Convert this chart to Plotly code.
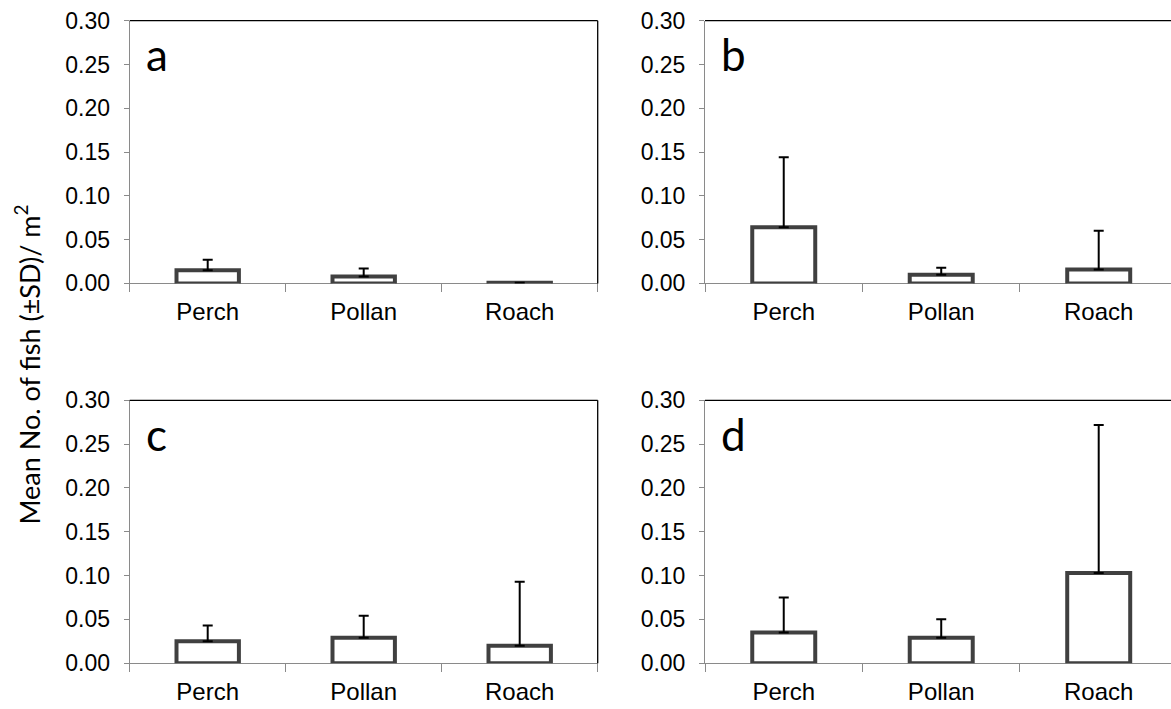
import plotly.graph_objects as go

categories = ["Perch", "Pollan", "Roach"]
panel_labels = ["a", "b", "c", "d"]

# Mean number of fish per m^2 and +SD (upper error only)
means_a = [0.015, 0.008, 0.0008]
sd_a = [0.012, 0.009, None]
means_b = [0.064, 0.010, 0.016]
sd_b = [0.080, 0.008, 0.044]
means_c = [0.025, 0.029, 0.020]
sd_c = [0.018, 0.025, 0.073]
means_d = [0.035, 0.029, 0.103]
sd_d = [0.040, 0.021, 0.169]

ytick_vals = [0.00, 0.05, 0.10, 0.15, 0.20, 0.25, 0.30]

W, H = 1171, 709

panels = [
    (means_a, sd_a, (129.7, 597.7), (8.0, 280.7), 2.5),
    (means_b, sd_b, (705.0, 1171.0), (8.0, 280.7), 2.459),
    (means_c, sd_c, (129.7, 597.7), (402.1, 674.9), 2.5),
    (means_d, sd_d, (705.0, 1171.0), (402.1, 674.9), 2.459),
]

fig = go.Figure()
layout = dict(
    width=W, height=H,
    margin=dict(l=0, r=0, t=0, b=0, pad=0),
    paper_bgcolor="white", plot_bgcolor="white",
    showlegend=False,
)
shapes = []
annotations = []
axis_gray = "#8a8a8a"

for i, (m, sd, (x0, x1), (ytop, ybot), xmax) in enumerate(panels):
    n = "" if i == 0 else str(i + 1)
    xa, ya = "x" + n, "y" + n
    fig.add_trace(go.Bar(
        x=categories, y=m, xaxis=xa, yaxis=ya,
        width=0.4,
        marker=dict(color="white", line=dict(color="#404040", width=4)),
        error_y=dict(type="data", symmetric=False, array=sd,
                     arrayminus=[0, 0, 0], color="black",
                     thickness=2, width=5),
        cliponaxis=False,
    ))
    layout["xaxis" + n] = dict(
        domain=[x0 / W, min(x1 / W, 1.0)], anchor=ya,
        type="category", categoryorder="array", categoryarray=categories,
        range=[-0.5, xmax], tickson="boundaries",
        ticks="outside", ticklen=8, tickcolor=axis_gray, tickwidth=1,
        showline=True, linecolor=axis_gray, linewidth=1,
        showgrid=False, zeroline=False, layer="below traces",
        tickfont=dict(family="Liberation Sans, Arial", size=24, color="black"),
        ticklabelstandoff=7, fixedrange=True,
    )
    layout["yaxis" + n] = dict(
        domain=[1 - ybot / H, 1 - ytop / H], anchor=xa,
        range=[0, 0.30], tickvals=ytick_vals, tickformat=".2f",
        ticks="outside", ticklen=5, tickcolor=axis_gray, tickwidth=1,
        showline=True, linecolor=axis_gray, linewidth=1,
        showgrid=False, zeroline=False, layer="below traces",
        tickfont=dict(family="Liberation Sans, Arial", size=23, color="black"),
        ticklabelstandoff=9, fixedrange=True,
    )
    # plot-area border (top, and right where visible)
    shapes.append(dict(type="line", xref=xa + " domain", yref=ya + " domain",
                       x0=0, x1=1, y0=1, y1=1,
                       line=dict(color="black", width=1.3)))
    if xmax >= 2.5:
        shapes.append(dict(type="line", xref=xa + " domain", yref=ya + " domain",
                           x0=1, x1=1, y0=0, y1=1,
                           line=dict(color="black", width=1.3)))
    ph = ybot - ytop
    annotations.append(dict(
        text=panel_labels[i], xref=xa + " domain", yref=ya + " domain",
        x=0.03, y=1 - 35 / ph, xanchor="left", yanchor="middle",
        showarrow=False,
        font=dict(family="Lato, Carlito, Calibri", size=44, color="black"),
    ))

annotations.append(dict(
    text="Mean No. of fish (±SD)/ m<sup>2</sup>",
    xref="paper", yref="paper", x=27 / W, y=1 - 365 / H,
    xanchor="center", yanchor="middle", textangle=-90, showarrow=False,
    font=dict(family="Lato, Carlito, Calibri", size=27, color="black"),
))

layout["shapes"] = shapes
layout["annotations"] = annotations
fig.update_layout(**layout)
fig.write_html(
    "out.html",
    config={"displayModeBar": False},
    post_script="document.body.style.margin='0';"
                "document.body.style.overflow='hidden';",
)
